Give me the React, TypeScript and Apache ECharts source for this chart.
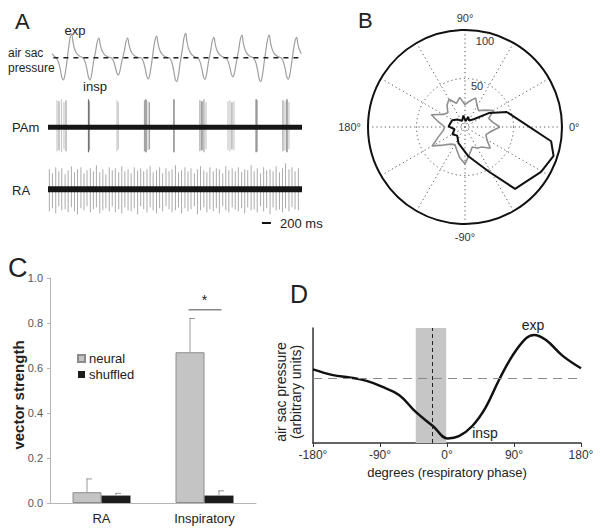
import React, { useEffect, useRef } from "react";
import * as echarts from "echarts";

const FONT = "'Liberation Sans', Arial, Helvetica, sans-serif";

// ---------------- Panel A : raw traces (time in ms) ----------------
const TIME_MAX = 5640;
const PRESSURE_LEAD = [[89, 4], [150, 1]];
const TROUGH_T = [340, 932, 1561, 2227, 2857, 3485, 4107, 4722, 5335];
const TROUGH_V = [-22.3, -22.3, -17.3, -21.3, -24, -21.6, -19, -24, -21.6];
const PEAK_T = [526, 1132, 1769, 2413, 3057, 3685, 4307, 4913, 5521];
const PEAK_V = [23.7, 19.7, 19.7, 21.7, 24.4, 20.4, 22.7, 22.7, 20.4];
// one breath cycle's shape: [ms offset, fraction of trough / peak]
const DESCENT_SHAPE = [[-160, 0], [-110, 0.18], [-65, 0.55], [-33, 0.88]];
const RISE_SHAPE = [[33, 0.8], [78, 0.2]];
const UPSTROKE_SHAPE = [[-73, 0.35], [-38, 0.8]];
const DECAY_SHAPE = [[27, 0.68], [60, 0.4], [105, 0.2], [170, 0.07], [240, 0.01]];

const PAM_SPIKE_T = [200, 244, 300, 355, 400, 899, 921, 1532, 1561, 2142, 2176, 2220, 2253, 2797, 3374, 3419, 3463, 3508, 3996, 4040, 4084, 4129, 4622, 4644, 5217, 5261, 5306, 5350];
const PAM_SPIKE_UP = [27, 26, 28, 25, 27, 28, 26, 27, 25, 27, 28, 26, 25, 28, 27, 26, 28, 25, 26, 27, 25, 26, 28, 27, 27, 26, 28, 25];
const PAM_SPIKE_DOWN = [24, 23, 25, 22, 24, 25, 23, 24, 22, 24, 25, 23, 22, 25, 24, 23, 25, 22, 23, 24, 22, 23, 25, 24, 24, 23, 25, 22];
const PAM_SPIKE_SHADE = [0, 1, 0, 0, 1, 2, 1, 0, 0, 1, 2, 0, 1, 2, 1, 2, 1, 0, 0, 0, 1, 0, 2, 1, 1, 0, 2, 0];

const RA_SPIKE_T = [30, 98, 172, 240, 305, 380, 447, 520, 588, 655, 731, 800, 866, 940, 1008, 1075, 1150, 1218, 1285, 1360, 1427, 1495, 1570, 1638, 1706, 1778, 1846, 1915, 1990, 2058, 2125, 2198, 2268, 2335, 2410, 2478, 2545, 2620, 2688, 2755, 2830, 2898, 2966, 3040, 3108, 3175, 3250, 3318, 3386, 3460, 3528, 3595, 3670, 3738, 3806, 3880, 3948, 4015, 4090, 4158, 4226, 4300, 4368, 4435, 4510, 4578, 4646, 4720, 4788, 4855, 4930, 4998, 5066, 5140, 5208, 5275, 5350, 5418, 5486, 5560];
const RA_SPIKE_UP = [20, 16, 22, 18, 21, 15, 19, 23, 17, 20, 22, 16, 19, 21, 18, 24, 17, 20, 15, 22, 19, 21, 17, 23, 18, 20, 16, 22, 19, 21, 18, 20, 23, 17, 19, 22, 16, 21, 18, 20, 24, 17, 19, 22, 18, 21, 16, 20, 23, 19, 17, 22, 18, 21, 20, 16, 23, 19, 21, 18, 22, 17, 20, 19, 24, 18, 21, 16, 22, 19, 20, 18, 23, 17, 21, 26, 20, 22, 18, 21];
const RA_SPIKE_DOWN = [22, 19, 24, 17, 21, 20, 23, 18, 22, 25, 19, 21, 17, 23, 20, 18, 24, 21, 19, 22, 17, 23, 20, 24, 18, 21, 22, 19, 25, 17, 20, 23, 18, 21, 24, 19, 22, 17, 20, 23, 21, 18, 24, 19, 22, 20, 17, 25, 21, 18, 23, 20, 22, 19, 24, 17, 21, 23, 18, 20, 22, 19, 24, 18, 21, 20, 23, 17, 22, 19, 25, 18, 21, 20, 23, 19, 22, 18, 20, 21];
const SCALE_BAR_MS = [4750, 4950];

// ---------------- Panel B : polar plot ----------------
const GRAY_ANGLE = [0, 10, 20, 30, 40, 50, 60, 70, 80, 90, 100, 110, 120, 130, 140, 150, 160, 170, 180, 190, 200, 210, 220, 230, 240, 250, 260, 270, 280, 290, 300, 310, 320, 330, 340, 350];
const GRAY_R = [36, 29, 26, 34, 27, 22, 25, 32, 27, 23, 31, 26, 33, 29, 23, 26, 37, 27, 21, 23, 29, 39, 29, 23, 21, 25, 32, 38, 28, 22, 25, 27, 34, 26, 23, 27];
const BLACK_ANGLE = [19.5, 30, 42, 58, 72, 85, 98, 115, 135, 152, 178, 192, 210, 228, 248, 276, 298, 309, 329.5, 342, 350.6];
const BLACK_R = [46, 29, 12, 8, 11, 6, 12, 7, 11, 15, 17, 11, 15, 12, 18, 30, 52, 82, 91, 96, 90];

// ---------------- Panel C : bar chart ----------------
const C_CATEGORIES = ["RA", "Inspiratory"];
const NEURAL = [0.048, 0.67];
const NEURAL_ERR = [0.107, 0.82];
const SHUFFLED = [0.033, 0.033];
const SHUFFLED_ERR = [0.043, 0.054];
const C_TICKS = [0, 0.2, 0.4, 0.6, 0.8, 1.0];
const SIG = { category: 1, lineValue: 0.859, starValue: 0.904 };

// ---------------- Panel D : average pressure over phase ----------------
const D_PHASE = [-180, -153, -131, -108, -89, -64, -42, -19, 1, 16, 34, 52, 70, 88, 106, 117, 133, 155, 180];
const D_PRESSURE = [0.64, 0.59, 0.57, 0.54, 0.494, 0.416, 0.27, 0.148, 0.04, 0.06, 0.148, 0.31, 0.55, 0.76, 0.91, 0.94, 0.895, 0.76, 0.65];
const D_BAND = [-42, -1];
const D_MEAN_PHASE = -20;
const D_BASELINE = 0.555;
const D_TICKS = [-180, -90, 0, 90, 180];

const SPIKE_SHADES = ["#c8c8c8", "#a2a2a2", "#6c6c6c"];

function buildPressure(): number[][] {
  const out: number[][] = PRESSURE_LEAD.map((p) => [p[0], p[1]]);
  for (let i = 0; i < TROUGH_T.length; i++) {
    const tt = TROUGH_T[i], tv = TROUGH_V[i], pt = PEAK_T[i], pv = PEAK_V[i];
    DESCENT_SHAPE.forEach(([dt, f]) => out.push([tt + dt, tv * f]));
    out.push([tt, tv]);
    RISE_SHAPE.forEach(([dt, f]) => out.push([tt + dt, tv * f]));
    UPSTROKE_SHAPE.forEach(([dt, f]) => out.push([pt + dt, pv * f]));
    out.push([pt, pv]);
    DECAY_SHAPE.forEach(([dt, f]) => out.push([pt + dt, pv * f]));
  }
  return out.filter((p) => p[0] <= TIME_MAX);
}

function spikeRender(width: number, colorFn: (s: number) => string) {
  return (params: any, api: any) => {
    const t = api.value(0);
    const up = api.value(1);
    const dn = api.value(2);
    const sh = api.value(3);
    const p1 = api.coord([t, up]);
    const p2 = api.coord([t, -dn]);
    return {
      type: "line",
      shape: { x1: p1[0], y1: p1[1], x2: p2[0], y2: p2[1] },
      style: { stroke: colorFn(sh), lineWidth: width },
    };
  };
}

function text(x: number, y: number, t: string, size: number, extra: any = {}, rotation = 0) {
  const align = extra.align || "left";
  return {
    type: "text",
    x,
    y,
    rotation,
    silent: true,
    style: {
      text: t,
      fontSize: size,
      fontFamily: FONT,
      fontWeight: extra.fontWeight || "normal",
      fill: extra.fill || "#222",
      align,
      textAlign: align,
      verticalAlign: "middle",
      textVerticalAlign: "middle",
    },
  };
}

export default function App() {
  const ref = useRef<HTMLDivElement>(null);

  useEffect(() => {
    if (!ref.current) return;
    const chart = echarts.init(ref.current, undefined, { renderer: "svg" });

    const pressure = buildPressure();
    const pamData = PAM_SPIKE_T.map((t, i) => [t, PAM_SPIKE_UP[i], PAM_SPIKE_DOWN[i], PAM_SPIKE_SHADE[i]]);
    const raData = RA_SPIKE_T.map((t, i) => [t, RA_SPIKE_UP[i], RA_SPIKE_DOWN[i], 0]);
    const grayPoly = GRAY_ANGLE.map((a, i) => [GRAY_R[i], a]);
    grayPoly.push([GRAY_R[0], GRAY_ANGLE[0]]);
    const blackPoly = BLACK_ANGLE.map((a, i) => [BLACK_R[i], a]);
    blackPoly.push([BLACK_R[0], BLACK_ANGLE[0]]);
    const errData = [
      ...NEURAL.map((v, i) => [i, v, NEURAL_ERR[i], -1]),
      ...SHUFFLED.map((v, i) => [i, v, SHUFFLED_ERR[i], 1]),
    ];
    const dCurve = D_PHASE.map((x, i) => [x, D_PRESSURE[i]]);

    const hiddenValueAxis = (gi: number, min: number, max: number) => ({
      type: "value",
      gridIndex: gi,
      min,
      max,
      show: false,
    });

    const option: any = {
      animation: false,
      backgroundColor: "#ffffff",
      textStyle: { fontFamily: FONT },
      grid: [
        { left: 48, top: 25, width: 254, height: 60 },
        { left: 48, top: 95, width: 254, height: 65 },
        { left: 48, top: 160, width: 254, height: 70 },
        { left: 50, top: 278, width: 206, height: 225 },
        { left: 313, top: 328, width: 268, height: 115 },
      ],
      xAxis: [
        hiddenValueAxis(0, 0, TIME_MAX),
        hiddenValueAxis(1, 0, TIME_MAX),
        hiddenValueAxis(2, 0, TIME_MAX),
        {
          type: "category",
          gridIndex: 3,
          data: C_CATEGORIES,
          axisLine: { lineStyle: { color: "#b5b5b5", width: 1 } },
          axisTick: { show: false },
          axisLabel: { fontSize: 13, color: "#222", margin: 9, fontFamily: FONT },
        },
        {
          type: "value",
          gridIndex: 4,
          min: -180,
          max: 180,
          interval: 90,
          axisLine: { show: true, onZero: false, lineStyle: { color: "#333", width: 1.5 } },
          axisTick: { show: true, length: 4, lineStyle: { color: "#333" } },
          axisLabel: {
            fontSize: 12,
            color: "#333",
            margin: 6,
            fontFamily: FONT,
            formatter: (v: number) => (D_TICKS.includes(v) ? `${v}°` : ""),
          },
          splitLine: { show: false },
        },
      ],
      yAxis: [
        hiddenValueAxis(0, -27.3, 32.7),
        hiddenValueAxis(1, -32.7, 32.3),
        hiddenValueAxis(2, -40.7, 29.3),
        {
          type: "value",
          gridIndex: 3,
          min: 0,
          max: 1,
          interval: 0.2,
          axisLine: { show: true, lineStyle: { color: "#b5b5b5", width: 1 } },
          axisTick: { show: true, length: 3, lineStyle: { color: "#b5b5b5" } },
          axisLabel: {
            fontSize: 11,
            color: "#555",
            margin: 7,
            fontFamily: FONT,
            formatter: (v: number) => (C_TICKS.some((t) => Math.abs(t - v) < 1e-6) ? v.toFixed(1) : ""),
          },
          splitLine: { show: false },
        },
        {
          type: "value",
          gridIndex: 4,
          min: 0,
          max: 1,
          axisLine: { show: true, onZero: false, lineStyle: { color: "#333", width: 1.5 } },
          axisTick: { show: false },
          axisLabel: { show: false },
          splitLine: { show: false },
        },
      ],
      polar: { center: [465, 127], radius: 97 },
      angleAxis: {
        type: "value",
        min: 0,
        max: 360,
        interval: 30,
        startAngle: 0,
        clockwise: false,
        axisLine: { show: true, lineStyle: { color: "#111", width: 2 } },
        axisTick: { show: false },
        axisLabel: {
          fontSize: 11,
          color: "#333",
          margin: 7,
          fontFamily: FONT,
          formatter: (v: number) =>
            v === 0 ? "0°" : v === 90 ? "90°" : v === 180 ? "180°" : v === 270 ? "-90°" : "",
        },
        splitLine: { show: true, lineStyle: { color: "#555", width: 1, type: [1.2, 3] } },
      },
      radiusAxis: {
        type: "value",
        min: 0,
        max: 100,
        interval: 50,
        axisLine: { show: false },
        axisTick: { show: false },
        axisLabel: { show: false },
        splitLine: { show: true, lineStyle: { color: "#555", width: 1, type: [1.2, 3] } },
      },
      legend: {
        data: [{ name: "neural" }, { name: "shuffled" }],
        orient: "vertical",
        left: 77,
        top: 352,
        padding: 0,
        itemWidth: 7,
        itemHeight: 7,
        itemGap: 3,
        selectedMode: false,
        icon: "rect",
        textStyle: { fontSize: 13, color: "#222", fontFamily: FONT, padding: [0, 0, 0, -1] },
      },
      series: [
        // ---- Panel A
        {
          type: "line",
          name: "pressure",
          xAxisIndex: 0,
          yAxisIndex: 0,
          data: pressure,
          smooth: 0.35,
          symbol: "none",
          lineStyle: { color: "#9f9f9f", width: 1.2 },
          z: 2,
        },
        {
          type: "line",
          name: "pressure baseline",
          xAxisIndex: 0,
          yAxisIndex: 0,
          data: [[120, 0], [TIME_MAX, 0]],
          symbol: "none",
          lineStyle: { color: "#222", width: 1.5, type: [5, 5] },
          z: 3,
        },
        {
          type: "custom",
          name: "PAm spikes",
          xAxisIndex: 1,
          yAxisIndex: 1,
          data: pamData,
          encode: { x: 0, y: 1 },
          renderItem: spikeRender(1.2, (s) => SPIKE_SHADES[s]),
          z: 2,
        },
        {
          type: "line",
          name: "PAm band",
          xAxisIndex: 1,
          yAxisIndex: 1,
          data: [[0, 0], [TIME_MAX, 0]],
          symbol: "none",
          lineStyle: { color: "#161616", width: 5 },
          z: 3,
        },
        {
          type: "custom",
          name: "RA spikes",
          xAxisIndex: 2,
          yAxisIndex: 2,
          data: raData,
          encode: { x: 0, y: 1 },
          renderItem: spikeRender(0.9, () => "#a0a0a0"),
          z: 2,
        },
        {
          type: "line",
          name: "RA band",
          xAxisIndex: 2,
          yAxisIndex: 2,
          data: [[0, 0], [TIME_MAX, 0]],
          symbol: "none",
          lineStyle: { color: "#161616", width: 6 },
          z: 3,
        },
        {
          type: "line",
          name: "scale bar",
          xAxisIndex: 2,
          yAxisIndex: 2,
          data: [[SCALE_BAR_MS[0], -33.7], [SCALE_BAR_MS[1], -33.7]],
          symbol: "none",
          lineStyle: { color: "#111", width: 2 },
          z: 3,
        },
        // ---- Panel B
        {
          type: "line",
          name: "neural polar",
          coordinateSystem: "polar",
          data: grayPoly,
          symbol: "none",
          lineStyle: { color: "#8f8f8f", width: 1.6 },
          z: 3,
        },
        {
          type: "line",
          name: "inspiratory polar",
          coordinateSystem: "polar",
          data: blackPoly,
          symbol: "none",
          lineStyle: { color: "#111", width: 2 },
          z: 4,
        },
        // ---- Panel C
        {
          type: "bar",
          name: "neural",
          xAxisIndex: 3,
          yAxisIndex: 3,
          data: NEURAL,
          barWidth: 29,
          barGap: "0%",
          itemStyle: { color: "#c4c4c4", borderColor: "#8c8c8c", borderWidth: 1 },
          z: 2,
        },
        {
          type: "bar",
          name: "shuffled",
          xAxisIndex: 3,
          yAxisIndex: 3,
          data: SHUFFLED,
          barWidth: 29,
          barGap: "0%",
          itemStyle: { color: "#1c1c1c" },
          z: 2,
        },
        {
          type: "custom",
          name: "error bars",
          xAxisIndex: 3,
          yAxisIndex: 3,
          data: errData,
          encode: { x: 0, y: 2 },
          renderItem: (params: any, api: any) => {
            const cat = api.value(0);
            const p = api.coord([cat, api.value(1)]);
            const q = api.coord([cat, api.value(2)]);
            const x = p[0] + api.value(3) * 14.5;
            return {
              type: "group",
              children: [
                { type: "line", shape: { x1: x, y1: p[1], x2: x, y2: q[1] }, style: { stroke: "#9a9a9a", lineWidth: 1 } },
                { type: "line", shape: { x1: x - 1, y1: q[1], x2: x + 5, y2: q[1] }, style: { stroke: "#9a9a9a", lineWidth: 1 } },
              ],
            };
          },
          z: 3,
        },
        {
          type: "custom",
          name: "significance",
          xAxisIndex: 3,
          yAxisIndex: 3,
          data: [[SIG.category, SIG.lineValue, SIG.starValue]],
          encode: { x: 0, y: 2 },
          renderItem: (params: any, api: any) => {
            const p = api.coord([api.value(0), api.value(1)]);
            const s = api.coord([api.value(0), api.value(2)]);
            return {
              type: "group",
              children: [
                { type: "line", shape: { x1: p[0] - 16, y1: p[1], x2: p[0] + 17, y2: p[1] }, style: { stroke: "#888", lineWidth: 1.5 } },
                {
                  type: "text",
                  style: { text: "*", x: p[0], y: s[1], align: "center", verticalAlign: "middle", fontSize: 14, fill: "#222", fontFamily: FONT },
                },
              ],
            };
          },
          z: 3,
        },
        // ---- Panel D
        {
          type: "line",
          name: "band",
          xAxisIndex: 4,
          yAxisIndex: 4,
          data: [],
          markArea: {
            silent: true,
            itemStyle: { color: "#c6c6c6", opacity: 1 },
            data: [[{ xAxis: D_BAND[0] }, { xAxis: D_BAND[1] }]],
          },
          z: 1,
        },
        {
          type: "line",
          name: "guides",
          xAxisIndex: 4,
          yAxisIndex: 4,
          data: [],
          markLine: {
            silent: true,
            symbol: ["none", "none"],
            label: { show: false },
            data: [
              { xAxis: D_MEAN_PHASE, lineStyle: { color: "#222", width: 1, type: [4, 3] } },
              { yAxis: D_BASELINE, lineStyle: { color: "#8a8a8a", width: 1.2, type: [9, 6] } },
            ],
          },
          z: 2,
        },
        {
          type: "line",
          name: "mean pressure",
          xAxisIndex: 4,
          yAxisIndex: 4,
          data: dCurve,
          smooth: 0.4,
          symbol: "none",
          lineStyle: { color: "#111", width: 2.5 },
          z: 3,
        },
      ],
      graphic: [
        text(15, 21, "A", 22),
        text(358, 20, "B", 22),
        text(8, 268, "C", 27),
        text(290, 294, "D", 25),
        text(75, 30, "exp", 13, { align: "center" }),
        text(8, 53, "air sac", 12),
        text(8, 68, "pressure", 12),
        text(95, 86, "insp", 13, { align: "center" }),
        text(12, 127, "PAm", 13),
        text(12, 190, "RA", 13),
        text(280, 223, "200 ms", 13),
        text(485, 41, "100", 11, { align: "center", fill: "#333" }),
        text(477, 86, "50", 11, { align: "center", fill: "#333" }),
        text(18, 395, "vector strength", 15, { align: "center", fontWeight: "bold" }, Math.PI / 2),
        text(281, 392, "air sac pressure", 14, { align: "center" }, Math.PI / 2),
        text(296, 392, "(arbitrary units)", 14, { align: "center" }, Math.PI / 2),
        text(447, 472, "degrees (respiratory phase)", 13, { align: "center" }),
        text(533, 325, "exp", 14, { align: "center" }),
        text(485, 433, "insp", 14, { align: "center" }),
      ],
    };

    chart.setOption(option);
    return () => chart.dispose();
  }, []);

  return (
    <div
      ref={ref}
      style={{ position: "absolute", left: 0, top: 0, width: 601, height: 532, background: "#fff" }}
    />
  );
}
